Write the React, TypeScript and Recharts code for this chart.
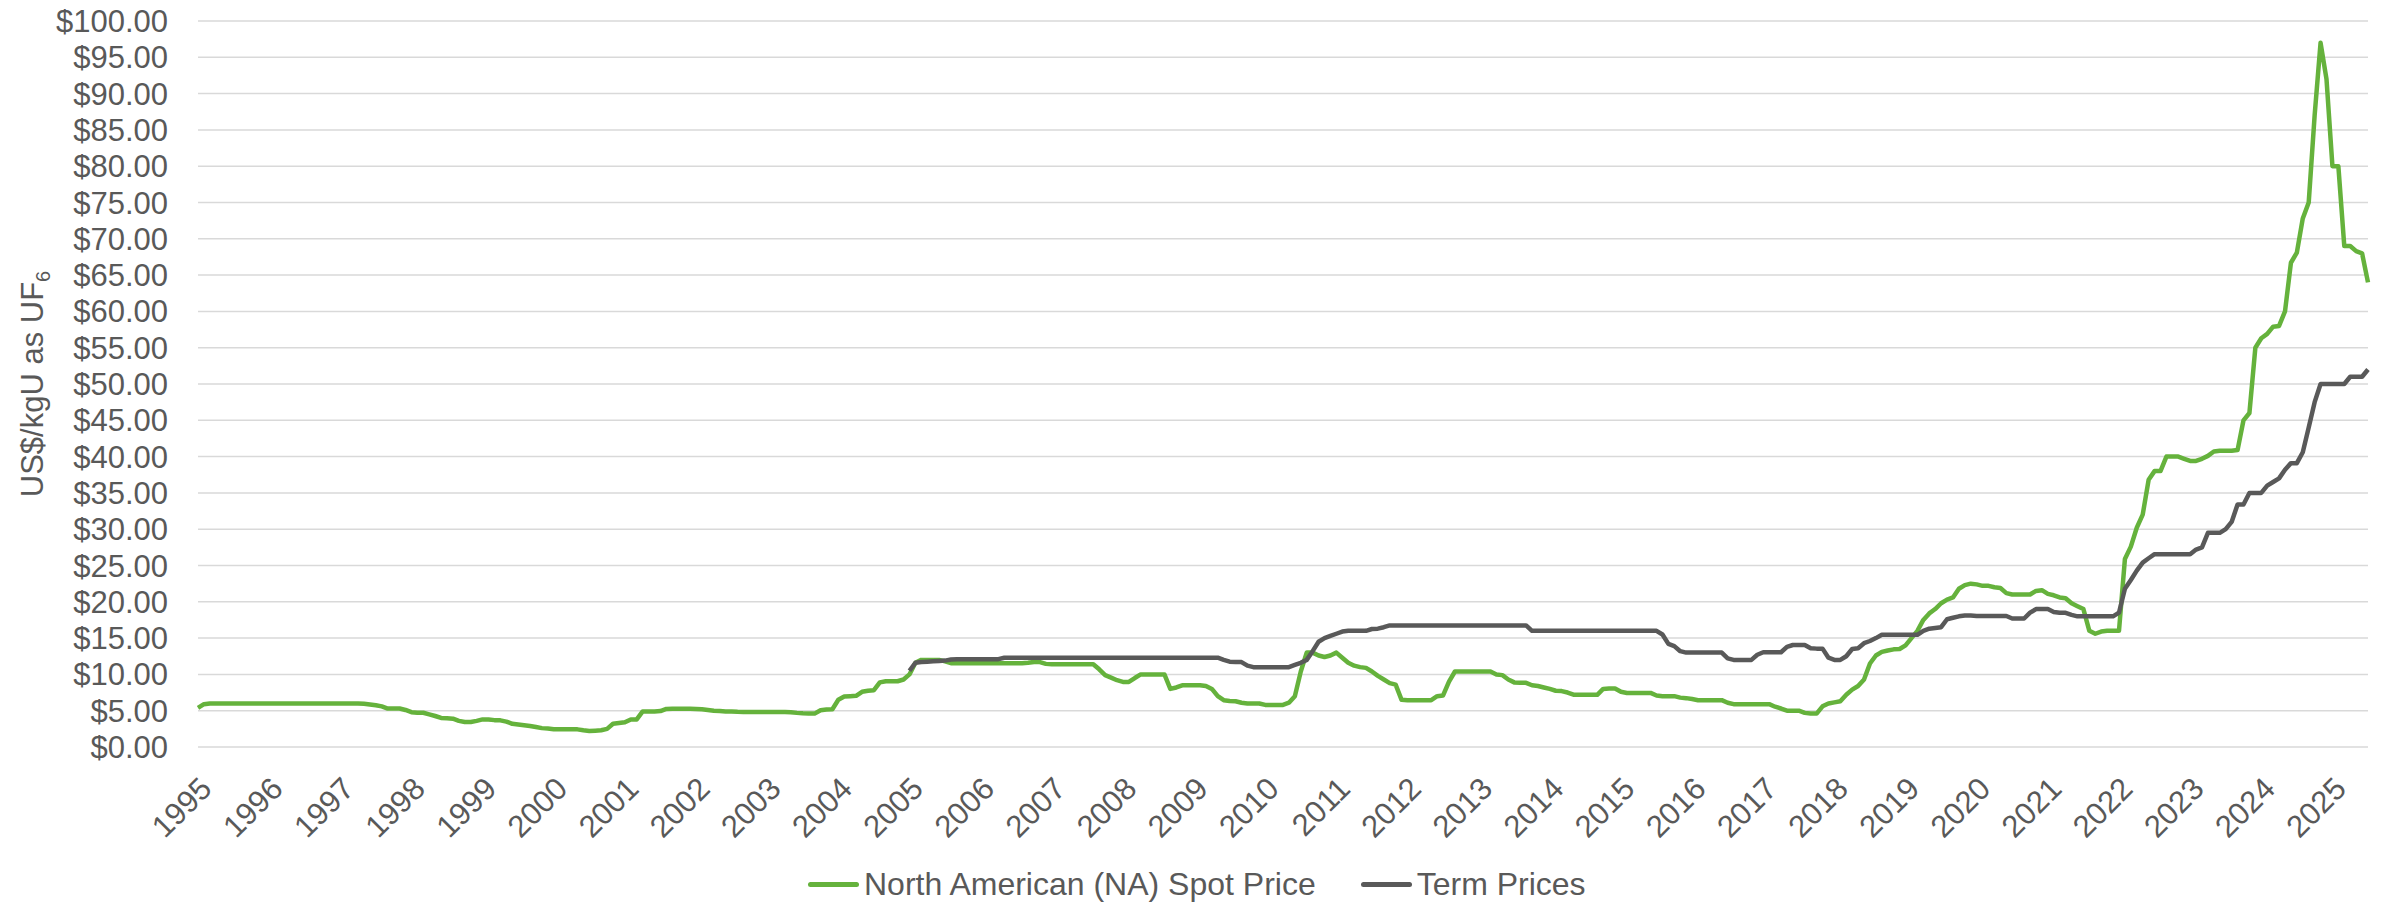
import { CartesianGrid, Legend, Line, LineChart, XAxis, YAxis } from "recharts";

const FONT = "'Liberation Sans', Arial, Helvetica, sans-serif";
const TEXT = "#595959";
const GREEN = "#65B23C";
const DARK = "#595959";

const years = [
  "1995", "1996", "1997", "1998", "1999", "2000", "2001", "2002", "2003", "2004",
  "2005", "2006", "2007", "2008", "2009", "2010", "2011", "2012", "2013", "2014",
  "2015", "2016", "2017", "2018", "2019", "2020", "2021", "2022", "2023", "2024", "2025",
];

const yTicks = [0, 5, 10, 15, 20, 25, 30, 35, 40, 45, 50, 55, 60, 65, 70, 75, 80, 85, 90, 95, 100];

// monthly NA spot price, Jan 1995 .. Jul 2025
const spotPrice = [
  5.4, 5.9, 6, 6, 6, 6, 6, 6, 6, 6, 6, 6, // 1995
  6, 6, 6, 6, 6, 6, 6, 6, 6, 6, 6, 6, // 1996
  6, 6, 6, 6, 5.95, 5.85, 5.75, 5.6, 5.3, 5.3, 5.3, 5.1, // 1997
  4.8, 4.72, 4.72, 4.5, 4.27, 4.0, 3.95, 3.9, 3.6, 3.44, 3.44, 3.6, // 1998
  3.8, 3.8, 3.7, 3.67, 3.5, 3.2, 3.1, 3.0, 2.9, 2.75, 2.6, 2.55, // 1999
  2.45, 2.43, 2.43, 2.43, 2.43, 2.3, 2.2, 2.25, 2.3, 2.5, 3.2, 3.3, // 2000
  3.4, 3.8, 3.8, 4.9, 4.9, 4.9, 4.95, 5.25, 5.28, 5.28, 5.28, 5.28, // 2001
  5.25, 5.2, 5.1, 5.0, 4.95, 4.9, 4.9, 4.85, 4.83, 4.83, 4.83, 4.83, // 2002
  4.83, 4.83, 4.83, 4.83, 4.8, 4.7, 4.64, 4.6, 4.6, 5.06, 5.15, 5.2, // 2003
  6.5, 6.95, 7.0, 7.05, 7.6, 7.75, 7.82, 8.9, 9.06, 9.06, 9.06, 9.3, // 2004
  10.0, 11.6, 12.0, 12.0, 12.0, 12.0, 11.8, 11.55, 11.55, 11.55, 11.55, 11.55, // 2005
  11.55, 11.55, 11.55, 11.55, 11.55, 11.55, 11.55, 11.55, 11.6, 11.7, 11.7, 11.45, // 2006
  11.4, 11.4, 11.4, 11.4, 11.4, 11.4, 11.4, 11.4, 10.7, 9.9, 9.56, 9.2, // 2007
  8.97, 8.97, 9.5, 10.0, 10.0, 10.0, 10.0, 10.0, 8.0, 8.2, 8.5, 8.5, // 2008
  8.5, 8.5, 8.4, 8.0, 7.0, 6.45, 6.35, 6.3, 6.1, 6.0, 6.0, 6.0, // 2009
  5.8, 5.77, 5.77, 5.8, 6.1, 7.0, 10.4, 13.0, 13.0, 12.6, 12.4, 12.6, // 2010
  13.0, 12.3, 11.6, 11.2, 11.0, 10.9, 10.4, 9.8, 9.3, 8.8, 8.6, 6.5, // 2011
  6.45, 6.45, 6.45, 6.45, 6.45, 7.0, 7.1, 9.0, 10.4, 10.4, 10.4, 10.4, // 2012
  10.4, 10.4, 10.4, 10.0, 9.9, 9.3, 8.9, 8.84, 8.84, 8.5, 8.4, 8.2, // 2013
  8.0, 7.75, 7.7, 7.5, 7.2, 7.19, 7.19, 7.19, 7.19, 8.0, 8.05, 8.05, // 2014
  7.6, 7.45, 7.45, 7.45, 7.45, 7.45, 7.1, 7.0, 7.0, 7.0, 6.8, 6.73, // 2015
  6.6, 6.45, 6.45, 6.45, 6.45, 6.45, 6.1, 5.9, 5.9, 5.9, 5.9, 5.9, // 2016
  5.9, 5.9, 5.55, 5.3, 5.0, 5.0, 5.0, 4.7, 4.6, 4.6, 5.6, 6.0, // 2017
  6.15, 6.3, 7.2, 7.9, 8.4, 9.3, 11.5, 12.6, 13.1, 13.3, 13.45, 13.5, // 2018
  14.0, 15.0, 16.0, 17.5, 18.4, 19.0, 19.8, 20.3, 20.6, 21.8, 22.3, 22.5, // 2019
  22.4, 22.2, 22.2, 22.0, 21.9, 21.2, 21.0, 21.0, 21.0, 21.0, 21.5, 21.6, // 2020
  21.1, 20.9, 20.6, 20.5, 19.8, 19.4, 19.0, 16.0, 15.6, 15.9, 16.0, 16.0, // 2021
  16.0, 25.9, 27.6, 30.2, 32.0, 36.8, 38.0, 38.0, 40.0, 40.0, 40.0, 39.7, // 2022
  39.4, 39.4, 39.7, 40.1, 40.7, 40.8, 40.8, 40.8, 40.9, 45.0, 46.0, 55.0, // 2023
  56.3, 56.9, 57.9, 58.0, 60.0, 66.7, 68.1, 72.8, 75.0, 87.0, 97.0, 92.0, // 2024
  80.0, 80.0, 69.0, 69.0, 68.3, 68.0, 64.0, // 2025
];

// monthly term price, starts Jan 2005
const termStartYear = 2005;
const termPrices = [
  10.5, 11.6, 11.7, 11.75, 11.8, 11.85, 11.9, 12.05, 12.1, 12.1, 12.1, 12.1, // 2005
  12.1, 12.1, 12.1, 12.1, 12.3, 12.3, 12.3, 12.3, 12.3, 12.3, 12.3, 12.3, // 2006
  12.3, 12.3, 12.3, 12.3, 12.3, 12.3, 12.3, 12.3, 12.3, 12.3, 12.3, 12.3, // 2007
  12.3, 12.3, 12.3, 12.3, 12.3, 12.3, 12.3, 12.3, 12.3, 12.3, 12.3, 12.3, // 2008
  12.3, 12.3, 12.3, 12.3, 12.3, 12.0, 11.75, 11.72, 11.7, 11.2, 11.0, 11.0, // 2009
  11.0, 11.0, 11.0, 11.0, 11.0, 11.3, 11.6, 12.0, 13.2, 14.5, 15.0, 15.3, // 2010
  15.6, 15.9, 16.0, 16.0, 16.0, 16.0, 16.25, 16.3, 16.5, 16.75, 16.75, 16.75, // 2011
  16.75, 16.75, 16.75, 16.75, 16.75, 16.75, 16.75, 16.75, 16.75, 16.75, 16.75, 16.75, // 2012
  16.75, 16.75, 16.75, 16.75, 16.75, 16.75, 16.75, 16.75, 16.75, 16.0, 16.0, 16.0, // 2013
  16.0, 16.0, 16.0, 16.0, 16.0, 16.0, 16.0, 16.0, 16.0, 16.0, 16.0, 16.0, // 2014
  16.0, 16.0, 16.0, 16.0, 16.0, 16.0, 16.0, 15.5, 14.2, 13.9, 13.2, 13.0, // 2015
  13.0, 13.0, 13.0, 13.0, 13.0, 13.0, 12.2, 12.0, 12.0, 12.0, 12.0, 12.7, // 2016
  13.05, 13.05, 13.05, 13.05, 13.8, 14.05, 14.05, 14.05, 13.6, 13.55, 13.55, 12.3, // 2017
  12.0, 12.0, 12.5, 13.5, 13.6, 14.3, 14.6, 15.0, 15.45, 15.45, 15.45, 15.45, // 2018
  15.45, 15.45, 15.45, 16.0, 16.3, 16.4, 16.5, 17.6, 17.8, 18.0, 18.1, 18.1, // 2019
  18.05, 18.05, 18.05, 18.05, 18.05, 18.05, 17.7, 17.7, 17.7, 18.5, 19.0, 19.0, // 2020
  19.0, 18.6, 18.48, 18.48, 18.2, 18.0, 18.0, 18.0, 18.0, 18.0, 18.0, 18.0, // 2021
  18.5, 21.8, 23.0, 24.3, 25.4, 26.0, 26.56, 26.56, 26.56, 26.56, 26.56, 26.56, // 2022
  26.56, 27.2, 27.5, 29.5, 29.5, 29.5, 30.0, 31.0, 33.4, 33.4, 35.0, 35.0, // 2023
  35.0, 36.0, 36.5, 37.0, 38.2, 39.1, 39.1, 40.6, 44.0, 47.5, 50.0, 50.0, // 2024
  50.0, 50.0, 50.0, 51.0, 51.0, 51.0, 52.0, // 2025
];

const termOffset = (termStartYear - Number(years[0])) * 12;

const data = spotPrice.map((spot, i) => {
  const j = i - termOffset;
  return { m: i, spot, term: j >= 0 && j < termPrices.length ? termPrices[j] : null };
});

const xTicks = years.map((_, i) => i * 12);

function YTitle(props: any) {
  const vb = props.viewBox || { y: 21, height: 726 };
  const cy = vb.y + vb.height / 2;
  const x = 43;
  return (
    <text
      x={x}
      y={cy}
      transform={`rotate(-90, ${x}, ${cy})`}
      textAnchor="middle"
      fill={TEXT}
      fontSize={31}
      fontFamily={FONT}
    >
      US$/kgU as UF
      <tspan dy={7} fontSize={20}>6</tspan>
    </text>
  );
}

function LegendContent(props: any) {
  const payload = props.payload || [];
  return (
    <div
      style={{
        display: "flex",
        alignItems: "center",
        gap: 45,
        fontSize: 32,
        color: TEXT,
        fontFamily: FONT,
        whiteSpace: "nowrap",
      }}
    >
      {payload.map((p: any) => (
        <div key={p.value} style={{ display: "flex", alignItems: "center" }}>
          <span
            style={{
              display: "inline-block",
              width: 51,
              height: 5,
              borderRadius: 2.5,
              background: p.color,
              marginRight: 5,
            }}
          />
          <span>{p.value}</span>
        </div>
      ))}
    </div>
  );
}

export default function App() {
  return (
    <div
      style={{
        position: "absolute",
        left: 0,
        top: 0,
        width: 2385,
        height: 902,
        background: "#fff",
        fontFamily: FONT,
      }}
    >
      <LineChart
        width={2385}
        height={902}
        data={data}
        margin={{ top: 21, right: 17, bottom: 0, left: 0 }}
      >
        <CartesianGrid vertical={false} stroke="#D9D9D9" strokeWidth={1.5} />
        <XAxis
          type="number"
          dataKey="m"
          domain={[0, 366]}
          ticks={xTicks}
          interval={0}
          tickFormatter={(v: number) => years[Math.round(v / 12)]}
          height={155}
          axisLine={false}
          tickLine={false}
          tickSize={0}
          tickMargin={28}
          angle={-45}
          textAnchor="end"
          tick={{ fill: TEXT, fontSize: 31, fontFamily: FONT }}
        />
        <YAxis
          type="number"
          domain={[0, 100]}
          ticks={yTicks}
          interval={0}
          width={198}
          axisLine={false}
          tickLine={false}
          tickSize={0}
          tickMargin={30}
          tickFormatter={(v: number) => `$${v.toFixed(2)}`}
          tick={{ fill: TEXT, fontSize: 31, fontFamily: FONT }}
          label={{ content: YTitle }}
        />
        <Legend
          layout="vertical"
          align="center"
          verticalAlign="middle"
          wrapperStyle={{ top: 866, left: 808, width: "auto" }}
          content={LegendContent}
        />
        <Line
          type="linear"
          dataKey="spot"
          name="North American (NA) Spot Price"
          stroke={GREEN}
          strokeWidth={4.5}
          strokeLinejoin="round"
          dot={false}
          activeDot={false}
          isAnimationActive={false}
        />
        <Line
          type="linear"
          dataKey="term"
          name="Term Prices"
          stroke={DARK}
          strokeWidth={4.5}
          strokeLinejoin="round"
          dot={false}
          activeDot={false}
          isAnimationActive={false}
        />
      </LineChart>
    </div>
  );
}
